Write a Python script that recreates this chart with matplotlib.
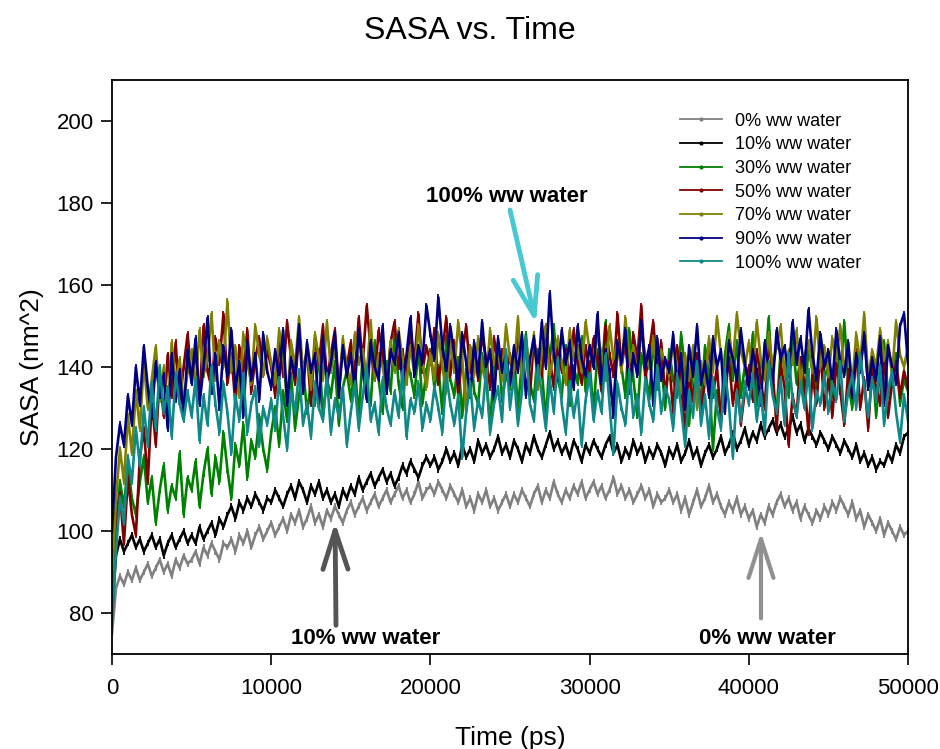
import numpy as np
import matplotlib
matplotlib.use("Agg")
import matplotlib.pyplot as plt
from matplotlib.lines import Line2D

plt.rcParams['font.family'] = ['Liberation Sans', 'DejaVu Sans']

# time axis (ps), one sample every 250 ps
time_ps = np.arange(0, 50001, 250)

labels = ["0% ww water", "10% ww water", "30% ww water", "50% ww water",
          "70% ww water", "90% ww water", "100% ww water"]
colors = ["#808080", "#000000", "#008000", "#800000", "#808000", "#000080", "#108888"]

sasa_0 = [
    75, 86, 89, 87, 90, 88, 91, 88, 90, 92, 89, 91, 93, 90, 92, 89, 93, 91, 94, 92,
    93, 95, 92, 96, 94, 97, 95, 93, 97, 96, 98, 95, 99, 97, 100, 96, 99, 101, 98, 100,
    102, 99, 101, 103, 100, 104, 102, 105, 101, 103, 106, 102, 104, 101, 105, 103, 106, 104, 102, 105,
    107, 104, 106, 108, 105, 107, 109, 106, 108, 110, 107, 109, 111, 108, 110, 107, 109, 112, 108, 110,
    111, 109, 112, 110, 108, 111, 109, 107, 110, 106, 108, 105, 109, 107, 110, 106, 108, 105, 107, 109,
    106, 109, 107, 110, 108, 106, 109, 111, 107, 110, 108, 112, 109, 107, 110, 108, 111, 109, 112, 108,
    110, 112, 109, 111, 108, 110, 113, 109, 111, 108, 110, 107, 109, 111, 108, 110, 106, 109, 107, 108,
    110, 107, 109, 105, 108, 104, 107, 110, 106, 108, 111, 107, 109, 106, 104, 107, 105, 108, 104, 106,
    103, 105, 101, 104, 102, 106, 104, 107, 109, 106, 108, 105, 107, 103, 106, 104, 102, 105, 103, 106,
    104, 107, 105, 108, 106, 104, 107, 103, 105, 101, 104, 102, 100, 103, 99, 102, 100, 98, 101, 99,
    100]

sasa_10 = [
    80, 94, 98, 95, 97, 99, 96, 98, 95, 97, 99, 96, 98, 94, 97, 99, 96, 98, 100, 97,
    99, 97, 101, 98, 100, 102, 99, 103, 101, 104, 106, 103, 107, 105, 108, 106, 109, 107, 105, 108,
    107, 110, 108, 106, 109, 111, 108, 112, 110, 107, 111, 109, 112, 108, 110, 107, 109, 106, 110, 108,
    111, 109, 113, 110, 112, 114, 111, 113, 115, 112, 114, 111, 113, 116, 114, 117, 115, 113, 116, 118,
    116, 118, 115, 117, 120, 117, 119, 116, 121, 118, 120, 117, 122, 119, 121, 118, 120, 123, 119, 121,
    118, 122, 120, 117, 121, 119, 123, 120, 118, 121, 124, 120, 122, 119, 121, 118, 122, 120, 117, 121,
    119, 122, 120, 118, 121, 123, 119, 121, 117, 120, 118, 122, 119, 121, 117, 120, 118, 121, 119, 116,
    120, 118, 121, 117, 119, 122, 118, 120, 116, 119, 121, 118, 120, 123, 119, 121, 124, 120, 122, 125,
    121, 124, 122, 126, 123, 125, 127, 124, 126, 123, 125, 128, 124, 126, 122, 125, 123, 121, 124, 122,
    120, 123, 121, 119, 122, 120, 118, 121, 117, 119, 116, 118, 115, 117, 116, 119, 117, 121, 119, 123,
    124]

sasa_30 = [
    85, 100, 112, 106, 116, 108, 104, 112, 118, 107, 113, 102, 110, 116, 105, 111, 108, 119, 104, 113,
    110, 117, 106, 114, 120, 109, 118, 112, 124, 115, 108, 121, 116, 126, 113, 122, 118, 128, 120, 115,
    124, 130, 121, 134, 127, 138, 125, 133, 140, 129, 136, 131, 144, 128, 137, 133, 141, 126, 135, 139,
    132, 140, 128, 143, 135, 131, 146, 137, 129, 141, 134, 148, 136, 130, 142, 138, 133, 145, 131, 139,
    144, 135, 140, 129, 147, 137, 133, 142, 128, 139, 145, 134, 131, 143, 137, 126, 140, 146, 132, 138,
    135, 143, 130, 141, 148, 136, 132, 144, 139, 127, 142, 150, 137, 133, 145, 131, 140, 136, 147, 134,
    141, 129, 144, 138, 151, 135, 131, 146, 140, 133, 149, 137, 128, 143, 139, 132, 147, 135, 141, 130,
    144, 137, 133, 148, 139, 126, 142, 135, 131, 145, 138, 120, 134, 129, 143, 150, 137, 146, 133, 140,
    136, 148, 131, 142, 138, 152, 135, 129, 144, 140, 133, 147, 136, 142, 130, 145, 139, 134, 148, 137,
    141, 133, 146, 138, 151, 136, 130, 144, 139, 149, 135, 142, 128, 140, 146, 133, 138, 143, 131, 137,
    134]

sasa_50 = [
    90, 102, 109, 97, 113, 104, 99, 118, 125, 112, 132, 121, 138, 128, 143, 133, 146, 131, 140, 148,
    137, 144, 132, 150, 139, 135, 147, 141, 153, 136, 143, 131, 145, 139, 149, 134, 142, 147, 138, 144,
    140, 133, 146, 138, 151, 142, 136, 148, 139, 144, 131, 147, 141, 150, 137, 143, 149, 135, 145, 140,
    146, 138, 152, 141, 155, 144, 137, 149, 143, 135, 146, 151, 140, 144, 137, 148, 142, 153, 139, 145,
    141, 149, 136, 144, 152, 138, 146, 133, 143, 150, 139, 145, 137, 148, 142, 135, 147, 140, 144, 138,
    143, 136, 148, 140, 145, 133, 147, 141, 138, 150, 142, 135, 146, 139, 144, 137, 149, 141, 136, 145,
    139, 147, 142, 134, 150, 143, 138, 153, 140, 146, 135, 148, 142, 155, 137, 144, 151, 139, 146, 133,
    141, 129, 145, 136, 124, 138, 132, 143, 128, 137, 146, 133, 140, 127, 135, 142, 131, 138, 126, 134,
    140, 132, 144, 137, 130, 146, 139, 125, 141, 135, 121, 133, 128, 142, 136, 124, 138, 131, 144, 130,
    137, 128, 141, 134, 126, 139, 133, 144, 130, 137, 125, 140, 135, 131, 143, 128, 136, 141, 133, 139,
    135]

sasa_70 = [
    88, 108, 120, 112, 128, 119, 134, 125, 141, 130, 137, 145, 132, 140, 128, 146, 136, 142, 131, 139,
    144, 135, 149, 138, 142, 153, 137, 146, 140, 156, 139, 145, 133, 148, 141, 136, 150, 143, 138, 147,
    141, 136, 149, 143, 131, 146, 140, 152, 138, 144, 135, 148, 142, 137, 151, 139, 145, 133, 147, 140,
    136, 148, 141, 144, 138, 151, 137, 143, 140, 134, 146, 139, 149, 142, 136, 145, 138, 150, 141, 135,
    143, 137, 148, 140, 134, 146, 139, 151, 142, 129, 145, 138, 147, 140, 136, 149, 141, 144, 137, 150,
    142, 139, 152, 137, 146, 140, 148, 135, 144, 150, 138, 143, 147, 141, 136, 149, 142, 145, 139, 151,
    144, 140, 148, 143, 137, 150, 142, 146, 139, 152, 141, 145, 138, 149, 143, 140, 147, 136, 144, 141,
    138, 146, 140, 134, 143, 137, 145, 130, 141, 136, 147, 139, 152, 143, 137, 148, 141, 153, 144, 140,
    146, 139, 151, 142, 137, 148, 140, 145, 150, 138, 144, 141, 149, 136, 143, 146, 139, 152, 140, 145,
    138, 147, 142, 150, 139, 145, 136, 148, 141, 153, 137, 144, 140, 149, 142, 146, 138, 151, 143, 140,
    145]

sasa_90 = [
    100, 118, 126, 121, 133, 126, 140, 131, 145, 135, 128, 141, 133, 138, 125, 143, 132, 139, 128, 144,
    136, 147, 131, 140, 152, 134, 143, 130, 145, 138, 149, 135, 141, 128, 146, 137, 143, 132, 148, 139,
    135, 144, 137, 149, 131, 142, 138, 150, 134, 146, 139, 143, 130, 147, 136, 141, 148, 133, 145, 138,
    143, 135, 149, 139, 132, 146, 140, 137, 150, 134, 144, 141, 148, 136, 143, 152, 138, 145, 141, 155,
    148, 142, 157, 145, 139, 150, 143, 136, 148, 141, 133, 146, 138, 151, 140, 144, 132, 147, 139, 143,
    136, 145, 139, 148, 133, 142, 147, 138, 151, 140, 158, 143, 137, 149, 141, 146, 135, 150, 142, 138,
    145, 140, 153, 136, 144, 139, 128, 146, 141, 149, 134, 143, 138, 151, 140, 145, 131, 147, 137, 142,
    139, 148, 135, 143, 130, 145, 138, 150, 136, 141, 133, 147, 140, 144, 129, 146, 142, 137, 149, 141,
    135, 144, 139, 131, 146, 140, 136, 149, 142, 145, 138, 151, 141, 147, 139, 154, 143, 137, 148, 140,
    144, 136, 149, 141, 138, 146, 133, 143, 139, 148, 135, 142, 137, 147, 131, 145, 140, 136, 150, 153,
    141]

sasa_100 = [
    78, 95, 108, 102, 118, 112, 125, 116, 130, 121, 136, 125, 140, 129, 135, 123, 138, 131, 127, 134,
    128, 137, 122, 133, 126, 140, 131, 124, 136, 129, 119, 133, 127, 138, 124, 131, 135, 121, 130, 126,
    132, 125, 137, 128, 120, 134, 129, 139, 126, 131, 123, 136, 130, 127, 138, 124, 132, 128, 135, 121,
    129, 136, 125, 133, 140, 127, 131, 124, 137, 130, 126, 134, 128, 139, 123, 132, 129, 136, 125, 131,
    127, 135, 130, 124, 138, 131, 126, 133, 118, 129, 136, 125, 132, 128, 139, 124, 131, 135, 127, 144,
    130, 138, 126, 134, 147, 131, 127, 140, 133, 125, 137, 129, 142, 131, 124, 136, 128, 134, 121, 132,
    138, 127, 134, 129, 143, 131, 119, 136, 130, 126, 139, 128, 133, 124, 137, 131, 127, 140, 129, 135,
    132, 125, 138, 130, 121, 134, 128, 141, 126, 133, 123, 137, 130, 125, 139, 131, 118, 134, 127, 136,
    131, 138, 127, 134, 124, 141, 133, 129, 137, 126, 143, 132, 128, 136, 130, 139, 125, 134, 131, 138,
    129, 136, 132, 141, 127, 134, 138, 130, 143, 135, 128, 137, 132, 140, 126, 134, 139, 129, 122, 133,
    127]

series = [sasa_0, sasa_10, sasa_30, sasa_50, sasa_70, sasa_90, sasa_100]

x_ticks = [0, 10000, 20000, 30000, 40000, 50000]
y_ticks = [80, 100, 120, 140, 160, 180, 200]

fig = plt.figure(figsize=(9.4, 7.49), dpi=100)
ax = fig.add_axes([112 / 940, 95 / 749, 796 / 940, 574 / 749])

for vals, c in zip(series, colors):
    ax.plot(time_ps, vals, color=c, lw=1.9, marker='|', ms=4, mew=1.3)

ax.set_xlim(0, 50000)
ax.set_ylim(70, 210)
ax.set_xticks(x_ticks)
ax.set_yticks(y_ticks)
ax.tick_params(axis='both', direction='out', length=8, width=1.2, labelsize=16)
ax.tick_params(axis='x', pad=9)
ax.tick_params(axis='y', pad=5)
for s in ax.spines.values():
    s.set_linewidth(1.3)

ax.set_xlabel("Time (ps)", fontsize=19, labelpad=20)
ax.set_ylabel("SASA (nm^2)", fontsize=19, labelpad=9)
fig.suptitle("SASA vs. Time", fontsize=23, y=0.978)

handles = [Line2D([0], [0], color=c, lw=1.3, marker='o', ms=2) for c in colors]
ax.legend(handles, labels, loc='upper left', bbox_to_anchor=(0.714, 0.943),
          frameon=False, fontsize=13, handlelength=2.3, handletextpad=0.7,
          labelspacing=0.37, borderaxespad=0, borderpad=0, numpoints=1)

# annotations
arrow_kw = dict(arrowstyle='->,head_length=1.4,head_width=0.45', lw=3.5,
                shrinkA=0, shrinkB=0, mutation_scale=20, capstyle='round')
ax.annotate('', xy=(26630, 150.7), xytext=(25000, 178.3),
            arrowprops=dict(color='#48c8d0', **arrow_kw))
ax.text(24800, 181.7, "100% ww water", fontsize=16, fontweight='bold', ha='center', va='center')

ax.annotate('', xy=(14010, 102.1), xytext=(14070, 77.0),
            arrowprops=dict(color='#555555', **arrow_kw))
ax.text(15950, 73.8, "10% ww water", fontsize=16, fontweight='bold', ha='center', va='center')

ax.annotate('', xy=(40766, 99.7), xytext=(40766, 78.7),
            arrowprops=dict(color='#909090', **dict(arrow_kw, lw=3.0)))
ax.text(41140, 73.8, "0% ww water", fontsize=16, fontweight='bold', ha='center', va='center')

fig.savefig("out.png", dpi=100)
